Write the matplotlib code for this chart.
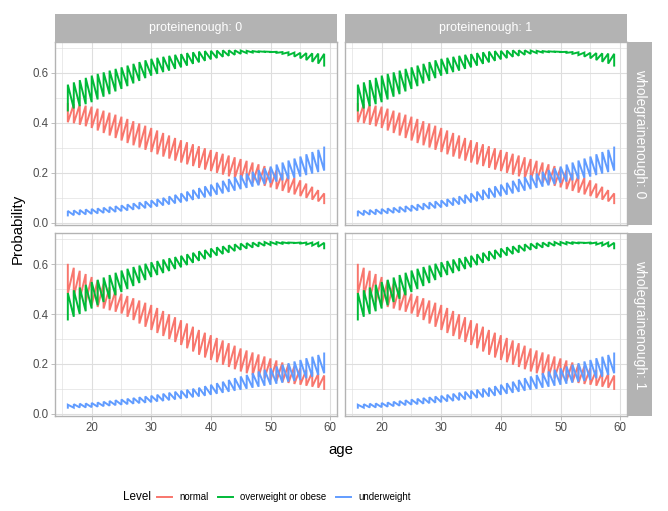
import matplotlib
matplotlib.use('Agg')
import matplotlib.pyplot as plt
from matplotlib.lines import Line2D
import numpy as np

plt.rcParams['font.family'] = 'Liberation Sans'

# ages 16..59, two predictions per age (a, b) which the line joins in turn
ages = list(range(16, 60))

# wholegrainenough: 0
normal_w0_a = [.475, .474, .472, .468, .464, .456, .448, .440, .432, .424,
               .415, .406, .397, .388, .379, .369, .359, .349, .339, .330,
               .322, .314, .306, .298, .291, .283, .276, .269, .262, .255,
               .248, .241, .234, .227, .220, .210, .200, .190, .180, .170,
               .157, .144, .131, .118]
normal_w0_b = [.402, .398, .392, .386, .379, .369, .359, .349, .339, .329,
               .319, .310, .301, .292, .283, .274, .265, .257, .249, .241,
               .234, .227, .220, .213, .207, .200, .193, .186, .179, .172,
               .166, .160, .154, .148, .142, .135, .128, .121, .114, .107,
               .100, .093, .086, .079]
over_w0_a = [.449, .457, .466, .474, .482, .493, .504, .514, .525, .535,
             .546, .557, .567, .578, .588, .595, .602, .608, .615, .621,
             .628, .635, .641, .647, .653, .658, .663, .667, .671, .675,
             .678, .680, .682, .683, .683, .683, .682, .681, .680, .679,
             .678, .677, .676, .675]
over_w0_b = [.552, .561, .570, .579, .588, .595, .601, .608, .615, .621,
             .628, .635, .642, .649, .655, .659, .663, .667, .671, .674,
             .678, .681, .684, .686, .687, .688, .689, .689, .689, .688,
             .687, .686, .685, .684, .682, .679, .675, .670, .664, .657,
             .650, .643, .636, .628]
under_w0_a = [.030, .031, .033, .034, .036, .038, .040, .042, .044, .047,
              .050, .053, .056, .059, .062, .066, .070, .074, .078, .082,
              .087, .092, .097, .102, .107, .113, .118, .124, .129, .135,
              .140, .145, .150, .155, .160, .165, .170, .175, .180, .185,
              .191, .197, .203, .209]
under_w0_b = [.048, .050, .052, .054, .056, .058, .061, .064, .067, .070,
              .074, .078, .082, .086, .090, .095, .100, .106, .112, .118,
              .125, .132, .139, .146, .153, .160, .168, .175, .183, .190,
              .197, .204, .211, .218, .225, .233, .241, .249, .257, .265,
              .274, .283, .292, .301]

# wholegrainenough: 1
normal_w1_a = [.597, .585, .573, .560, .548, .535, .521, .507, .494, .481,
               .472, .463, .454, .445, .436, .424, .412, .399, .387, .375,
               .362, .349, .336, .325, .315, .304, .294, .283, .273, .262,
               .254, .246, .238, .230, .222, .214, .206, .198, .190, .183,
               .176, .168, .161, .154]
normal_w1_b = [.482, .470, .459, .447, .435, .428, .422, .415, .409, .402,
               .389, .376, .362, .349, .336, .324, .312, .300, .288, .276,
               .263, .250, .237, .226, .216, .207, .197, .188, .179, .170,
               .163, .156, .149, .142, .136, .132, .128, .124, .120, .117,
               .113, .109, .105, .100]
over_w1_a = [.378, .389, .400, .411, .422, .435, .448, .461, .475, .488,
             .500, .512, .524, .536, .548, .556, .564, .572, .580, .587,
             .596, .605, .613, .620, .627, .634, .640, .646, .652, .657,
             .662, .666, .670, .673, .676, .679, .681, .683, .685, .686,
             .686, .686, .686, .685]
over_w1_b = [.484, .495, .506, .517, .528, .537, .546, .556, .565, .574,
             .581, .588, .594, .601, .607, .612, .618, .623, .628, .633,
             .639, .645, .651, .656, .662, .667, .671, .675, .679, .682,
             .684, .686, .687, .688, .688, .688, .687, .686, .684, .682,
             .678, .674, .669, .663]
under_w1_a = [.025, .025, .026, .026, .027, .029, .031, .033, .035, .037,
              .039, .041, .043, .045, .047, .050, .052, .055, .058, .061,
              .064, .067, .070, .073, .077, .081, .085, .089, .093, .097,
              .101, .105, .109, .113, .117, .121, .125, .129, .132, .136,
              .143, .149, .156, .163]
under_w1_b = [.037, .039, .041, .042, .044, .046, .049, .052, .055, .058,
              .061, .064, .067, .070, .073, .077, .081, .085, .089, .093,
              .097, .101, .105, .111, .117, .123, .129, .136, .143, .150,
              .156, .163, .170, .177, .183, .190, .197, .203, .210, .216,
              .223, .229, .236, .242]

levels = ['normal', 'overweight or obese', 'underweight']
colors = ['#F8766D', '#00BA38', '#619CFF']
protein = [0, 1]
wholegrain = [0, 1]
# same curves in both proteinenough columns
curves = {
    0: [(normal_w0_a, normal_w0_b), (over_w0_a, over_w0_b), (under_w0_a, under_w0_b)],
    1: [(normal_w1_a, normal_w1_b), (over_w1_a, over_w1_b), (under_w1_a, under_w1_b)],
}

W, H = 668, 511
fig = plt.figure(figsize=(W / 100, H / 100), dpi=100)

col_x = [55, 345]
row_y = [(42, 225), (233.5, 416)]
pw = 282
grey70 = '#B3B3B3'
grey87 = '#DEDEDE'
grey30 = '#4D4D4D'

axes = {}
for r, wg in enumerate(wholegrain):
    for c, pr in enumerate(protein):
        y0, y1 = row_y[r]
        share = axes.get((0, 0))
        ax = fig.add_axes([col_x[c] / W, 1 - y1 / H, pw / W, (y1 - y0) / H],
                          sharex=share, sharey=share)
        axes[(r, c)] = ax
        ax.set_axisbelow(True)
        for k, (a, b) in enumerate(curves[wg]):
            x = np.repeat(ages, 2)
            y = np.column_stack((a, b)).ravel()
            ax.plot(x, y, color=colors[k], lw=1.4, solid_joinstyle='miter')

        ax.set_xticks([20, 30, 40, 50, 60])
        ax.set_xticks([15, 25, 35, 45, 55], minor=True)
        ax.set_yticks([0.0, 0.2, 0.4, 0.6])
        ax.set_yticks([0.1, 0.3, 0.5, 0.7], minor=True)
        ax.grid(which='major', color=grey87, lw=0.8)
        ax.grid(which='minor', color=grey87, lw=0.45)
        for s in ax.spines.values():
            s.set_color(grey70)
            s.set_linewidth(1.0)
        ax.tick_params(which='major', length=2.6, width=0.6, color=grey70,
                       labelsize=8.3, labelcolor=grey30, pad=2)
        ax.tick_params(which='minor', length=0)
        if c > 0:
            ax.tick_params(axis='y', which='both', left=False, labelleft=False)
        if r == 0:
            ax.tick_params(axis='x', which='both', bottom=False, labelbottom=False)

        # strips
        if r == 0:
            sx = fig.add_axes([col_x[c] / W, 1 - 42 / H, pw / W, 28 / H])
            sx.set_facecolor(grey70)
            sx.set_xticks([])
            sx.set_yticks([])
            for s in sx.spines.values():
                s.set_visible(False)
            sx.text(0.5, 0.5, 'proteinenough: %d' % pr, color='white', fontsize=8.9,
                    ha='center', va='center', transform=sx.transAxes)
        if c == 1:
            sy = fig.add_axes([627.5 / W, 1 - y1 / H, 24.5 / W, (y1 - y0) / H])
            sy.set_facecolor(grey70)
            sy.set_xticks([])
            sy.set_yticks([])
            for s in sy.spines.values():
                s.set_visible(False)
            sy.text(0.5, 0.5, 'wholegrainenough: %d' % wg, color='white', fontsize=10,
                    ha='center', va='center', rotation=-90, transform=sy.transAxes)

fig.text(18 / W, 1 - 229 / H, 'Probability', rotation=90, fontsize=10.8,
         ha='center', va='center')
fig.text(341 / W, 1 - 450 / H, 'age', fontsize=10.8, ha='center', va='center')

# legend along the bottom
fig.text(123 / W, 1 - 497 / H, 'Level', fontsize=8.4, ha='left', va='center')
handles = [Line2D([], [], color=col, lw=1.4) for col in colors]
fig.legend(handles, levels, loc='center left', bbox_to_anchor=(157 / W, 1 - 497 / H),
           ncol=3, frameon=False, fontsize=6.9,
           handlelength=1.57, handletextpad=0.73, columnspacing=1.04,
           borderpad=0, borderaxespad=0)

fig.savefig('out.png', dpi=100)
